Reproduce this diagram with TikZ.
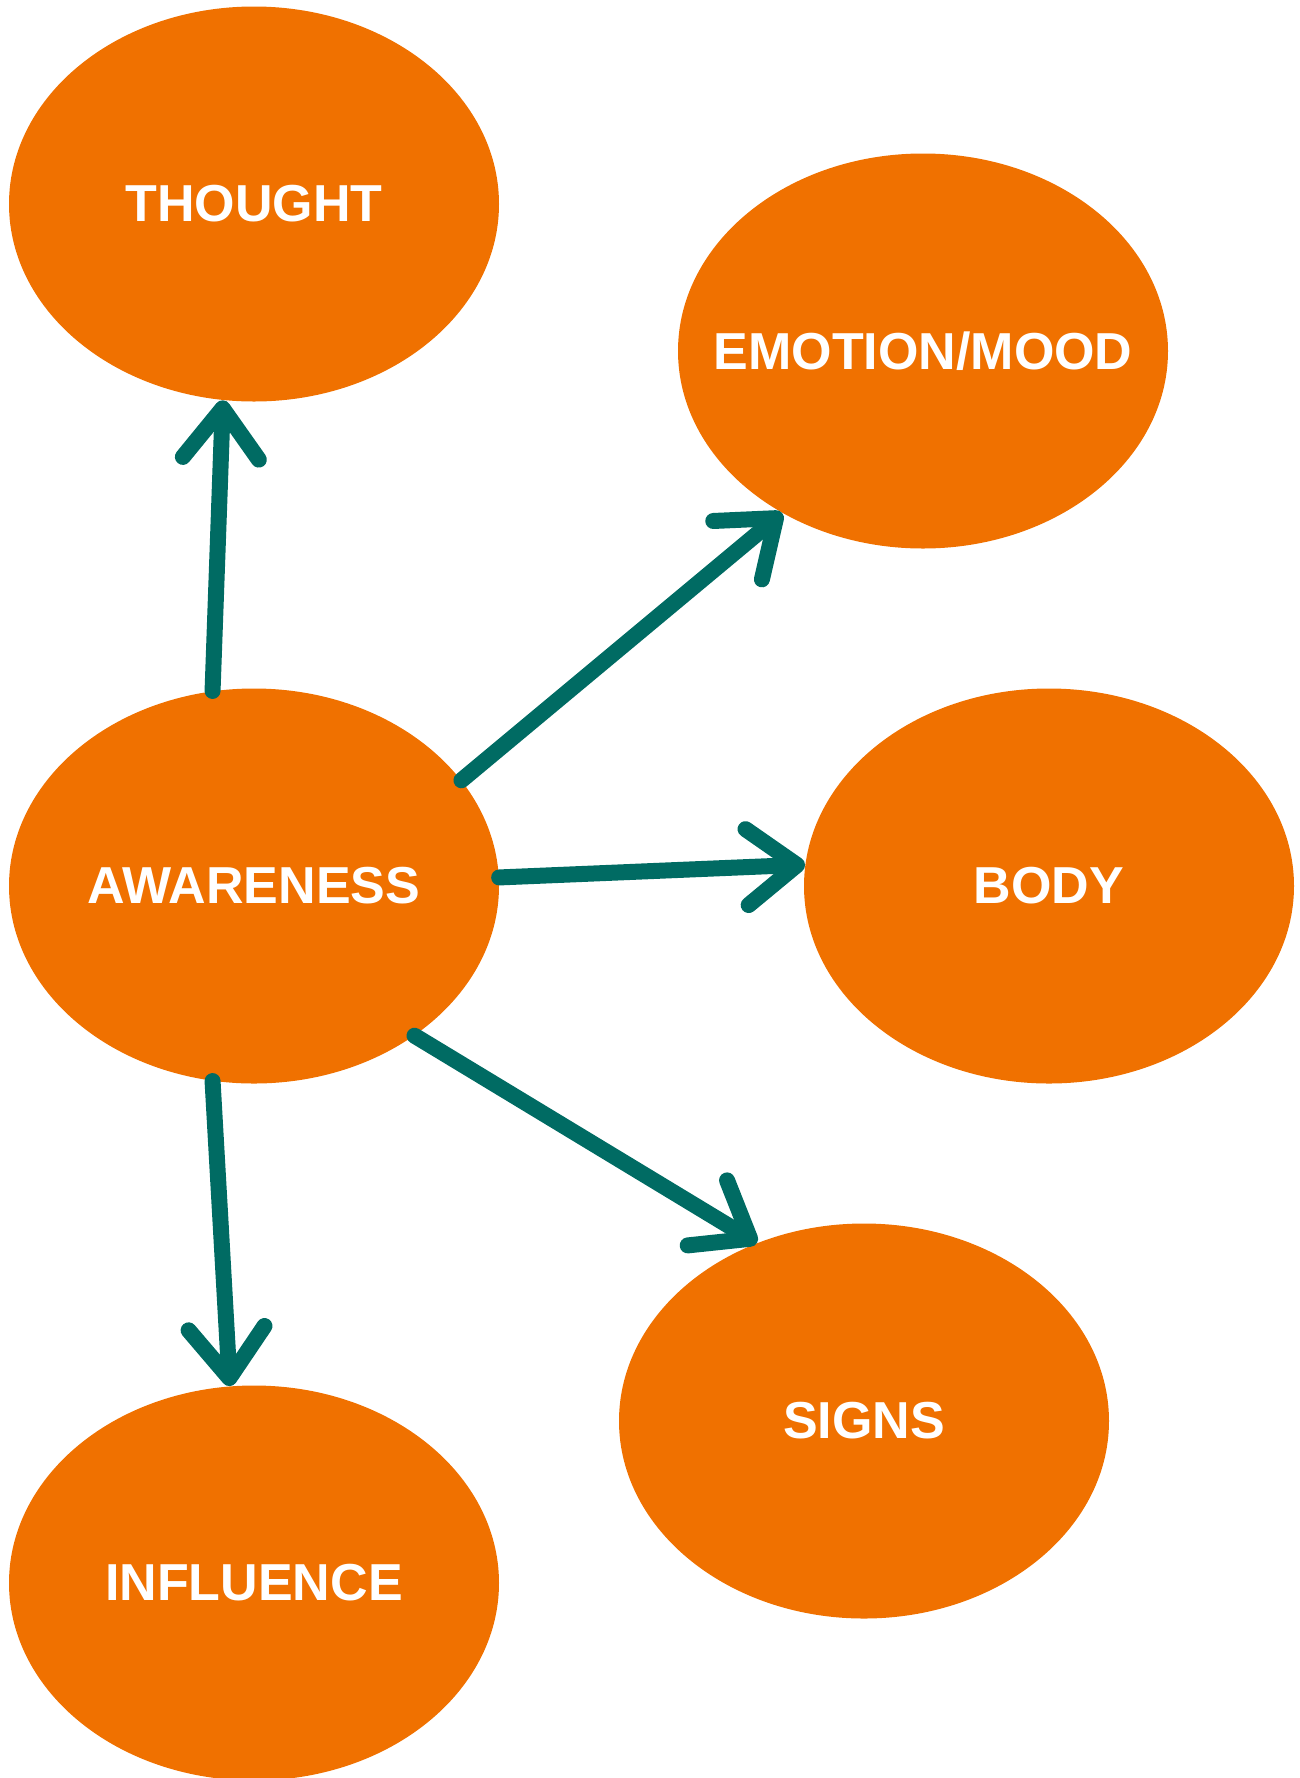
\documentclass[tikz,border=0pt]{standalone}
\usepackage{fontspec}
\setmainfont{Liberation Sans}
\usetikzlibrary{shapes.geometric,arrows.meta}
\definecolor{blob}{HTML}{F07100}
\definecolor{chalk}{HTML}{006B63}
\newcommand{\bubbletext}[1]{\makebox[0pt]{#1}}

\begin{document}
\begin{tikzpicture}[x=0.5pt,y=-0.5pt,
  bubble/.style={ellipse,fill=blob,minimum width=245pt,minimum height=197.5pt,
    inner sep=0pt,text=white,font=\fontsize{26}{31}\selectfont\bfseries},
  link/.style={draw=chalk,line width=8pt,line cap=round,line join=round,
    -{Straight Barb[length=25pt,width=38pt,round]}}]

\useasboundingbox (0,0) rectangle (1300,1778);

\node[bubble] (thought) at (254,204) {\bubbletext{THOUGHT}};
\node[bubble] (emotion) at (923,351) {\bubbletext{EMOTION/MOOD}};
\node[bubble] (awareness) at (254,886) {\bubbletext{AWARENESS}};
\node[bubble] (body) at (1049,886) {\bubbletext{BODY}};
\node[bubble] (signs) at (864,1421) {\bubbletext{SIGNS}};
\node[bubble] (influence) at (254,1583) {\bubbletext{INFLUENCE}};

% arrows out of awareness
\draw[link] (awareness.102) -- (thought.261);
\draw[link] (awareness.27) -- (emotion.229);
\draw[link] (awareness.2.4) -- (body.175.4);
\draw[link] (awareness.-43.5) -- (signs.121.5);
\draw[link] (awareness.258.8) -- (influence.97);

\end{tikzpicture}
\end{document}
